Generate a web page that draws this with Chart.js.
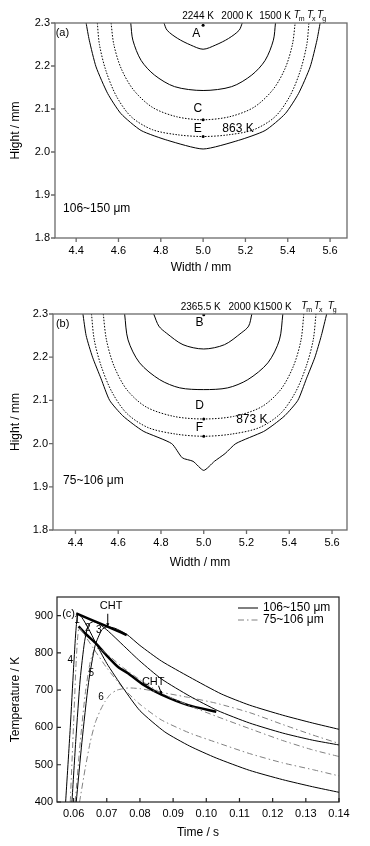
<!DOCTYPE html>
<html>
<head>
<meta charset="utf-8">
<script src="https://cdn.jsdelivr.net/npm/chart.js@4.4.1/dist/chart.umd.min.js"></script>
<style>
  body { margin: 0; background: #fff; }
  .panel { position: absolute; left: 0; }
</style>
</head>
<body>
<div class="panel" style="top:0px"><canvas id="chartA" width="370" height="285"></canvas></div>
<div class="panel" style="top:290px"><canvas id="chartB" width="370" height="285"></canvas></div>
<div class="panel" style="top:580px"><canvas id="chartC" width="370" height="266"></canvas></div>
<script>
// ---- tick labels ----
const widthTicks = [4.4, 4.6, 4.8, 5.0, 5.2, 5.4, 5.6];
const hightTicks = [1.8, 1.9, 2.0, 2.1, 2.2, 2.3];
const timeTicks = [0.06, 0.07, 0.08, 0.09, 0.10, 0.11, 0.12, 0.13, 0.14];
const tempTicks = [400, 500, 600, 700, 800, 900];

// ---- (a) 106~150 um isotherms, [width, hight] ----
const a2000 = [[4.815,2.300],[4.83,2.283],[4.88,2.264],[4.94,2.249],[5.00,2.239],[5.06,2.249],[5.12,2.264],[5.17,2.283],[5.185,2.300]];
const a1500 = [[4.658,2.300],[4.668,2.260],[4.707,2.213],[4.77,2.179],[4.865,2.152],[5.00,2.143],[5.135,2.152],[5.23,2.179],[5.293,2.213],[5.332,2.260],[5.342,2.300]];
const aTm = [[4.565,2.300],[4.578,2.250],[4.612,2.195],[4.67,2.145],[4.76,2.104],[4.875,2.082],[5.00,2.075],[5.125,2.082],[5.24,2.104],[5.33,2.145],[5.388,2.195],[5.422,2.250],[5.435,2.300]];
const aTx = [[4.500,2.300],[4.51,2.250],[4.54,2.190],[4.59,2.130],[4.66,2.082],[4.76,2.052],[4.88,2.040],[5.00,2.036],[5.12,2.040],[5.24,2.052],[5.34,2.082],[5.41,2.130],[5.46,2.190],[5.49,2.250],[5.50,2.300]];
const aTg = [[4.447,2.300],[4.462,2.260],[4.494,2.198],[4.549,2.136],[4.612,2.089],[4.707,2.050],[4.833,2.027],[5.00,2.007],[5.167,2.027],[5.293,2.050],[5.388,2.089],[5.451,2.136],[5.506,2.198],[5.538,2.260],[5.553,2.300]];
const aPoints = [[5.0,2.295],[5.0,2.075],[5.0,2.036]];

// ---- (b) 75~106 um isotherms ----
const b2000 = [[4.766,2.300],[4.79,2.272],[4.825,2.256],[4.903,2.229],[5.00,2.219],[5.097,2.229],[5.175,2.256],[5.21,2.272],[5.225,2.300]];
const b1500 = [[4.630,2.300],[4.646,2.240],[4.700,2.187],[4.794,2.148],[4.888,2.129],[5.00,2.125],[5.112,2.129],[5.206,2.148],[5.300,2.187],[5.354,2.240],[5.370,2.300]];
const bTm = [[4.530,2.300],[4.545,2.240],[4.580,2.180],[4.640,2.125],[4.730,2.085],[4.860,2.063],[5.00,2.057],[5.140,2.063],[5.270,2.085],[5.360,2.125],[5.420,2.180],[5.455,2.240],[5.468,2.300]];
const bTx = [[4.475,2.300],[4.488,2.240],[4.520,2.180],[4.570,2.120],[4.640,2.070],[4.740,2.037],[4.870,2.022],[5.00,2.017],[5.130,2.022],[5.260,2.037],[5.360,2.070],[5.430,2.120],[5.480,2.180],[5.512,2.240],[5.525,2.300]];
const bTg = [[4.435,2.300],[4.45,2.250],[4.48,2.200],[4.52,2.150],[4.56,2.100],[4.62,2.065],[4.67,2.045],[4.72,2.028],[4.85,2.000],[4.90,1.967],[4.95,1.959],[5.00,1.938],[5.05,1.959],[5.10,1.977],[5.15,2.000],[5.28,2.028],[5.33,2.045],[5.38,2.065],[5.44,2.100],[5.48,2.150],[5.52,2.200],[5.55,2.250],[5.575,2.300]];
const bPoints = [[5.0,2.298],[5.0,2.057],[5.0,2.017]];

// ---- (c) thermal histories ----
const c1X = [0.0576,0.0590,0.0600,0.0607,0.0613,0.0625,0.0645,0.0665,0.070,0.075,0.080,0.0875,0.095,0.103,0.113,0.123,0.132,0.140];
const c1Y = [400,600,760,860,904,895,865,830,772,705,645,588,550,518,485,460,441,426];
const c2X = [0.0595,0.0607,0.0620,0.0633,0.0645,0.0660,0.0680,0.0705,0.075,0.080,0.0865,0.095,0.1035,0.113,0.123,0.132,0.140];
const c2Y = [400,570,730,830,876,884,876,858,820,778,730,684,645,612,585,566,553];
const c3X = [0.0608,0.0625,0.0645,0.0665,0.0685,0.0700,0.0725,0.076,0.080,0.0865,0.095,0.1045,0.113,0.123,0.132,0.140];
const c3Y = [400,560,720,820,862,870,866,850,820,778,735,690,660,633,612,595];
const c4X = [0.0590,0.0600,0.0608,0.0616,0.0630,0.0660,0.0700,0.075,0.080,0.0865,0.095,0.103,0.113,0.123,0.132,0.140];
const c4Y = [400,610,780,868,852,812,760,705,662,620,585,560,530,505,487,470];
const c5X = [0.0605,0.0620,0.0635,0.0650,0.0665,0.0685,0.0710,0.075,0.080,0.0865,0.095,0.103,0.113,0.123,0.132,0.140];
const c5Y = [400,560,690,775,812,808,790,760,728,692,658,630,597,565,540,522];
const c6X = [0.0618,0.0635,0.0650,0.0665,0.0680,0.0695,0.0710,0.0730,0.0765,0.080,0.0865,0.095,0.103,0.113,0.123,0.132,0.140];
const c6Y = [400,490,560,612,645,670,688,700,706,704,694,680,665,640,608,580,557];
const chtUpX = [0.0608,0.0650,0.0690,0.0725,0.0760];
const chtUpY = [906,890,875,862,848];
const chtLowX = [0.0615,0.0640,0.0668,0.0700,0.0737,0.0765,0.0810,0.0865,0.0945,0.1030];
const chtLowY = [871,848,825,793,760,745,715,688,660,642];

Chart.defaults.font.family = '"Liberation Sans", Arial, sans-serif';
Chart.defaults.color = '#000';

const pairs = (pts) => pts.map(p => ({x: p[0], y: p[1]}));
const zip = (xs, ys) => xs.map((v, i) => ({x: v, y: ys[i]}));

const curve = (data, extra) => Object.assign({
    data: data, showLine: true, pointRadius: 0, borderColor: '#000',
    borderWidth: 1, tension: 0.3, fill: false
}, extra);

const dotted = {borderDash: [1.5, 1.5]};
const dashDot = {borderColor: '#808080', borderDash: [6, 3, 1.5, 3]};

// frame round the plot + tick marks (in or out)
const framePlugin = {
    id: 'frame',
    afterDraw(chart, args, opts) {
        const {ctx, chartArea: a, scales} = chart;
        const d = opts.inward ? -1 : 1;
        ctx.save();
        ctx.strokeStyle = opts.color;
        ctx.lineWidth = opts.width;
        ctx.strokeRect(a.left, a.top, a.right - a.left, a.bottom - a.top);
        ctx.beginPath();
        scales.x.ticks.forEach(t => {
            const px = scales.x.getPixelForValue(t.value);
            ctx.moveTo(px, a.bottom);
            ctx.lineTo(px, a.bottom + d * 4);
        });
        scales.y.ticks.forEach(t => {
            const py = scales.y.getPixelForValue(t.value);
            ctx.moveTo(a.left, py);
            ctx.lineTo(a.left - d * 4, py);
        });
        ctx.stroke();
        ctx.restore();
    }
};

// text labels, arrows and the legend of (c)
const notesPlugin = {
    id: 'notes',
    afterDatasetsDraw(chart, args, opts) {
        const {ctx, chartArea: a, scales: {x, y}} = chart;
        ctx.save();
        ctx.fillStyle = '#000';
        ctx.strokeStyle = '#000';
        (opts.items || []).forEach(n => {
            const px = x.getPixelForValue(n.x), py = y.getPixelForValue(n.y);
            if (n.arrowTo) {
                const qx = x.getPixelForValue(n.arrowTo[0]), qy = y.getPixelForValue(n.arrowTo[1]);
                ctx.lineWidth = 1;
                ctx.beginPath();
                ctx.moveTo(px, py);
                ctx.lineTo(qx, qy);
                ctx.stroke();
                const ang = Math.atan2(qy - py, qx - px);
                ctx.beginPath();
                ctx.moveTo(qx, qy);
                ctx.lineTo(qx - 4 * Math.cos(ang - 0.4), qy - 4 * Math.sin(ang - 0.4));
                ctx.lineTo(qx - 4 * Math.cos(ang + 0.4), qy - 4 * Math.sin(ang + 0.4));
                ctx.closePath();
                ctx.fill();
                return;
            }
            const size = n.size || 12;
            ctx.textAlign = n.align || 'center';
            ctx.textBaseline = n.base || 'middle';
            if (n.sub) {
                ctx.font = 'italic ' + size + 'px "Liberation Sans"';
                ctx.textAlign = 'center';
                ctx.fillText('T', px, py);
                ctx.font = Math.round(size * 0.7) + 'px "Liberation Sans"';
                ctx.textAlign = 'left';
                ctx.fillText(n.sub, px + 2, py + 3);
            } else {
                ctx.font = size + 'px "Liberation Sans"';
                ctx.fillText(n.text, px, py);
            }
        });
        (opts.legend || []).forEach((l, i) => {
            const ly = a.top + 11 + i * 12;
            ctx.save();
            ctx.strokeStyle = l.color;
            ctx.lineWidth = 1;
            ctx.setLineDash(l.dash);
            ctx.beginPath();
            ctx.moveTo(a.right - 101, ly);
            ctx.lineTo(a.right - 81, ly);
            ctx.stroke();
            ctx.restore();
            ctx.font = '12px "Liberation Sans"';
            ctx.textAlign = 'left';
            ctx.textBaseline = 'middle';
            ctx.fillText(l.text, a.right - 76, ly);
        });
        ctx.restore();
    }
};

const axis = (min, max, ticks, digits, size, titleText, titlePad, tickPad) => ({
    type: 'linear', min: min, max: max,
    afterBuildTicks: s => { s.ticks = ticks.map(v => ({value: v})); },
    afterFit: s => { if (s.isHorizontal()) s.height = size; else s.width = size; },
    grid: {display: false, drawTicks: false},
    border: {display: false},
    ticks: {autoSkip: false, maxRotation: 0, padding: tickPad, font: {size: 11}, color: '#000',
            callback: v => v.toFixed(digits)},
    title: {display: true, text: titleText, font: {size: 12}, color: '#000', padding: titlePad}
});

const isoChart = (id, curves, points, xMin, xMax, pad, leftW, bottomH, titleBottom, notes) => new Chart(document.getElementById(id), {
    type: 'scatter',
    data: {
        datasets: [
            curve(pairs(curves[0])),
            curve(pairs(curves[1])),
            curve(pairs(curves[2]), dotted),
            curve(pairs(curves[3]), dotted),
            curve(pairs(curves[4]), {tension: 0.2}),
            {data: pairs(points), pointRadius: 1.5, pointBackgroundColor: '#000', pointBorderWidth: 0, showLine: false}
        ]
    },
    options: {
        responsive: false, animation: false,
        layout: {padding: {top: pad, right: 23, left: 0, bottom: 0}},
        plugins: {legend: {display: false}, tooltip: {enabled: false},
                  frame: {color: '#6a6a6a', width: 1.3, inward: false},
                  notes: {items: notes}},
        scales: {
            x: axis(xMin, xMax, widthTicks, 1, bottomH, 'Width / mm', {top: 0, bottom: titleBottom}, 6),
            y: axis(1.8, 2.3, hightTicks, 1, leftW, 'Hight / mm', {top: 8, bottom: 0}, 5)
        }
    },
    plugins: [framePlugin, notesPlugin]
});

isoChart('chartA', [a2000, a1500, aTm, aTx, aTg], aPoints, 4.30, 5.68, 23, 55, 47, 10, [
    {text: '(a)', x: 4.335, y: 2.276, size: 11},
    {text: '2244 K', x: 4.976, y: 2.309, size: 10, base: 'alphabetic'},
    {text: '2000 K', x: 5.161, y: 2.309, size: 10, base: 'alphabetic'},
    {text: '1500 K', x: 5.340, y: 2.309, size: 10, base: 'alphabetic'},
    {sub: 'm', x: 5.443, y: 2.311, size: 10, base: 'alphabetic'},
    {sub: 'x', x: 5.505, y: 2.311, size: 10, base: 'alphabetic'},
    {sub: 'g', x: 5.553, y: 2.311, size: 10, base: 'alphabetic'},
    {text: 'A', x: 4.967, y: 2.276},
    {text: 'C', x: 4.975, y: 2.101},
    {text: 'E', x: 4.975, y: 2.055},
    {text: '863 K', x: 5.165, y: 2.055},
    {text: '106~150 \u03bcm', x: 4.338, y: 1.869, align: 'left'}
]);

isoChart('chartB', [b2000, b1500, bTm, bTx, bTg], bPoints, 4.295, 5.67, 24, 53, 45, 5, [
    {text: '(b)', x: 4.34, y: 2.278, size: 11},
    {text: '2365.5 K', x: 4.986, y: 2.310, size: 10, base: 'alphabetic'},
    {text: '2000 K', x: 5.190, y: 2.310, size: 10, base: 'alphabetic'},
    {text: '1500 K', x: 5.337, y: 2.310, size: 10, base: 'alphabetic'},
    {sub: 'm', x: 5.47, y: 2.312, size: 10, base: 'alphabetic'},
    {sub: 'x', x: 5.53, y: 2.312, size: 10, base: 'alphabetic'},
    {sub: 'g', x: 5.594, y: 2.312, size: 10, base: 'alphabetic'},
    {text: 'B', x: 4.98, y: 2.280},
    {text: 'D', x: 4.98, y: 2.088},
    {text: 'F', x: 4.98, y: 2.036},
    {text: '873 K', x: 5.225, y: 2.055},
    {text: '75~106 \u03bcm', x: 4.342, y: 1.914, align: 'left'}
]);

new Chart(document.getElementById('chartC'), {
    type: 'scatter',
    data: {
        datasets: [
            curve(zip(c1X, c1Y), {tension: 0.2}),
            curve(zip(c2X, c2Y), {tension: 0.2}),
            curve(zip(c3X, c3Y), {tension: 0.2}),
            curve(zip(c4X, c4Y), Object.assign({tension: 0.2}, dashDot)),
            curve(zip(c5X, c5Y), Object.assign({tension: 0.2}, dashDot)),
            curve(zip(c6X, c6Y), Object.assign({tension: 0.2}, dashDot)),
            curve(zip(chtUpX, chtUpY), {borderWidth: 2.5, tension: 0.2}),
            curve(zip(chtLowX, chtLowY), {borderWidth: 2.5, tension: 0.2})
        ]
    },
    options: {
        responsive: false, animation: false,
        layout: {padding: {top: 17, right: 31, left: 0, bottom: 0}},
        plugins: {
            legend: {display: false}, tooltip: {enabled: false},
            frame: {color: '#222', width: 1.2, inward: true},
            notes: {
                items: [
                    {text: '(c)', x: 0.0585, y: 905, size: 11},
                    {text: 'CHT', x: 0.0713, y: 925, size: 11},
                    {x: 0.0703, y: 905, arrowTo: [0.0703, 870]},
                    {text: 'CHT', x: 0.0840, y: 723, size: 11},
                    {x: 0.0856, y: 712, arrowTo: [0.0866, 688]},
                    {text: '1', x: 0.0610, y: 887, size: 10},
                    {text: '2', x: 0.0643, y: 866, size: 10},
                    {text: '3', x: 0.0676, y: 861, size: 10},
                    {text: '4', x: 0.0590, y: 780, size: 10},
                    {text: '5', x: 0.0653, y: 745, size: 10},
                    {text: '6', x: 0.0683, y: 682, size: 10}
                ],
                legend: [
                    {text: '106~150 \u03bcm', color: '#000', dash: []},
                    {text: '75~106 \u03bcm', color: '#808080', dash: [6, 3, 1.5, 3]}
                ]
            }
        },
        scales: {
            x: axis(0.055, 0.14, timeTicks, 2, 44, 'Time / s', {top: 0, bottom: 6}, 5),
            y: axis(400, 950, tempTicks, 0, 57, 'Temperature / K', {top: 8, bottom: 0}, 4)
        }
    },
    plugins: [framePlugin, notesPlugin]
});
</script>
</body>
</html>
